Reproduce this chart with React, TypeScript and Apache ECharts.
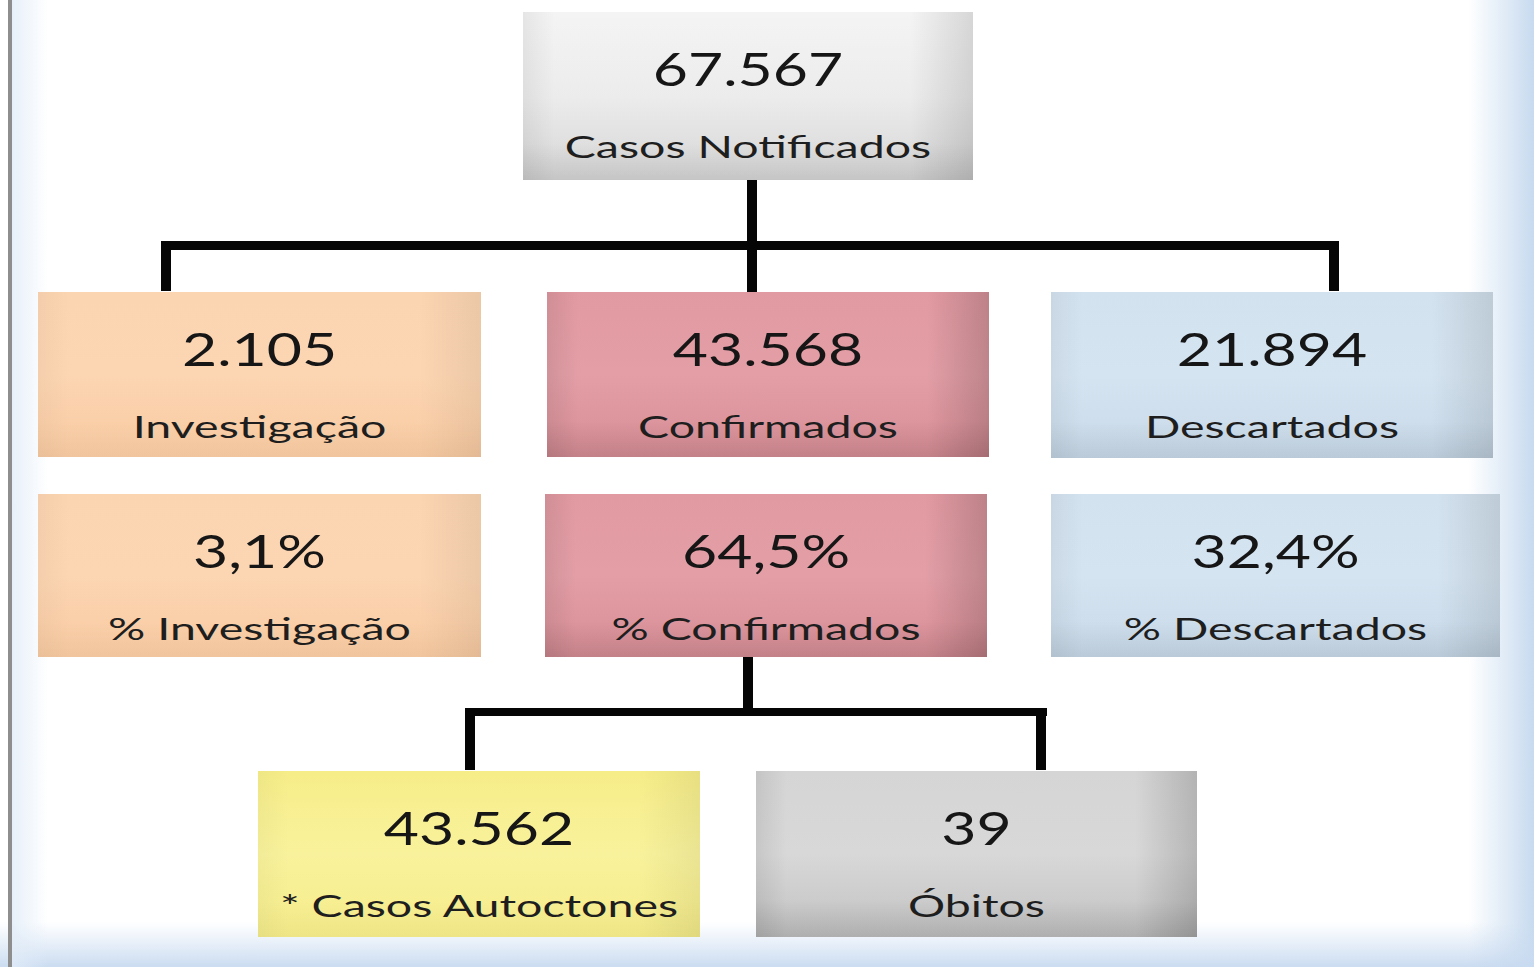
import React, { useEffect, useRef } from "react";
import * as echarts from "echarts";

// ---- Data ----
const totalNotificados = 67567;
const groupCounts = [2105, 43568, 21894]; // Investigação, Confirmados, Descartados
const groupPercents = [3.1, 64.5, 32.4];
const confirmedBreakdown = [43562, 39]; // Autoctones, Óbitos

const topLabel = "Casos Notificados";
const groupLabels = ["Investigação", "Confirmados", "Descartados"];
const percentLabels = ["% Investigação", "% Confirmados", "% Descartados"];
const breakdownLabels = ["* Casos Autoctones", "Óbitos"];

// ---- formatting ----
const fmtInt = (n: number) => String(n).replace(/\B(?=(\d{3})+(?!\d))/g, ".");
const fmtPct = (p: number) => p.toFixed(1).replace(".", ",") + "%";

// ---- themes ----
type Theme = { top: string; mid: string; bottom: string; edge: number; bottomShade: number };
const themes: Record<string, Theme> = {
  gray: { top: "#f4f4f4", mid: "#ececec", bottom: "#d6d6d6", edge: 0.12, bottomShade: 0.08 },
  orange: { top: "#fbd4b1", mid: "#fcd5b2", bottom: "#f8cba2", edge: 0.06, bottomShade: 0.03 },
  pink: { top: "#e29aa2", mid: "#e39ea6", bottom: "#d98f97", edge: 0.16, bottomShade: 0.1 },
  blue: { top: "#d3e2ef", mid: "#d5e4f1", bottom: "#c8d9e8", edge: 0.1, bottomShade: 0.07 },
  yellow: { top: "#f6ed88", mid: "#f9f29c", bottom: "#f5ec8a", edge: 0.06, bottomShade: 0.03 },
  gray2: { top: "#d5d5d5", mid: "#d8d8d8", bottom: "#c2c2c2", edge: 0.16, bottomShade: 0.1 },
};

// ---- layout ----
const boxLayout = [
  { x: 523, y: 12, w: 450, h: 168, theme: "gray" },
  { x: 38, y: 292, w: 443, h: 165, theme: "orange" },
  { x: 547, y: 292, w: 442, h: 165, theme: "pink" },
  { x: 1051, y: 292, w: 442, h: 166, theme: "blue" },
  { x: 38, y: 494, w: 443, h: 163, theme: "orange" },
  { x: 545, y: 494, w: 442, h: 163, theme: "pink" },
  { x: 1051, y: 494, w: 449, h: 163, theme: "blue" },
  { x: 258, y: 771, w: 442, h: 166, theme: "yellow" },
  { x: 756, y: 771, w: 441, h: 166, theme: "gray2" },
];

const connectors = [
  { x: 747, y: 180, w: 10, h: 112 },
  { x: 161, y: 241, w: 1178, h: 9 },
  { x: 161, y: 241, w: 10, h: 50 },
  { x: 1329, y: 241, w: 10, h: 50 },
  { x: 743, y: 657, w: 10, h: 58 },
  { x: 465, y: 708, w: 582, h: 8 },
  { x: 465, y: 708, w: 10, h: 62 },
  { x: 1036, y: 708, w: 10, h: 62 },
];

const FONT = "Lato, 'Open Sans', sans-serif";

function buildElements() {
  const values = [
    fmtInt(totalNotificados),
    ...groupCounts.map(fmtInt),
    ...groupPercents.map(fmtPct),
    ...confirmedBreakdown.map(fmtInt),
  ];
  const labels = [topLabel, ...groupLabels, ...percentLabels, ...breakdownLabels];

  const els: any[] = [];
  // background
  els.push({ type: "rect", shape: { x: 0, y: 0, width: 1534, height: 967 }, style: { fill: "#ffffff" } });
  els.push({
    type: "rect",
    shape: { x: 1468, y: 0, width: 66, height: 967 },
    style: {
      fill: new echarts.graphic.LinearGradient(0, 0, 1, 0, [
        { offset: 0, color: "rgba(200,220,240,0)" },
        { offset: 1, color: "rgba(196,216,238,0.95)" },
      ]),
    },
  });
  els.push({
    type: "rect",
    shape: { x: 0, y: 922, width: 1534, height: 45 },
    style: {
      fill: new echarts.graphic.LinearGradient(0, 0, 0, 1, [
        { offset: 0, color: "rgba(205,222,242,0)" },
        { offset: 1, color: "rgba(200,218,240,0.95)" },
      ]),
    },
  });
  els.push({
    type: "rect",
    shape: { x: 12, y: 0, width: 36, height: 967 },
    style: {
      fill: new echarts.graphic.LinearGradient(0, 0, 1, 0, [
        { offset: 0, color: "rgba(225,236,248,0.8)" },
        { offset: 1, color: "rgba(225,236,248,0)" },
      ]),
    },
  });
  els.push({ type: "rect", shape: { x: 8, y: 0, width: 4, height: 967 }, style: { fill: "#8e8e8e" } });

  // connectors
  connectors.forEach((c) =>
    els.push({ type: "rect", shape: { x: c.x, y: c.y, width: c.w, height: c.h }, style: { fill: "#050505" } })
  );

  // boxes
  boxLayout.forEach((b, i) => {
    const t = themes[b.theme];
    els.push({
      type: "rect",
      shape: { x: b.x, y: b.y, width: b.w, height: b.h },
      style: {
        fill: new echarts.graphic.LinearGradient(0, 0, 0, 1, [
          { offset: 0, color: t.top },
          { offset: 0.5, color: t.mid },
          { offset: 1, color: t.bottom },
        ]),
      },
    });
    els.push({
      type: "rect",
      shape: { x: b.x, y: b.y, width: b.w, height: b.h },
      style: {
        fill: new echarts.graphic.LinearGradient(0, 0, 1, 0, [
          { offset: 0, color: `rgba(0,0,0,${t.edge * 0.5})` },
          { offset: 0.07, color: "rgba(0,0,0,0)" },
          { offset: 0.86, color: "rgba(0,0,0,0)" },
          { offset: 1, color: `rgba(0,0,0,${t.edge})` },
        ]),
      },
    });
    els.push({
      type: "rect",
      shape: { x: b.x, y: b.y, width: b.w, height: b.h },
      style: {
        fill: new echarts.graphic.LinearGradient(0, 0, 0, 1, [
          { offset: 0, color: "rgba(0,0,0,0)" },
          { offset: 0.78, color: "rgba(0,0,0,0)" },
          { offset: 1, color: `rgba(0,0,0,${t.bottomShade})` },
        ]),
      },
    });
    const cx = b.x + b.w / 2;
    els.push({
      type: "text",
      x: cx,
      y: b.y + 56,
      scaleX: 1.32,
      style: {
        text: values[i],
        fontSize: 46,
        fontFamily: FONT,
        fill: "#161616",
        align: "center",
        verticalAlign: "middle",
      },
    });
    els.push({
      type: "text",
      x: cx,
      y: b.y + 134,
      scaleX: 1.5,
      style: {
        text: labels[i],
        fontSize: 31,
        fontFamily: FONT,
        fill: "#1e1e1e",
        align: "center",
        verticalAlign: "middle",
      },
    });
  });
  return els;
}

export default function App() {
  const ref = useRef<HTMLDivElement>(null);
  useEffect(() => {
    document.body.style.margin = "0";
    if (!ref.current) return;
    const chart = echarts.init(ref.current, null, { renderer: "svg" });
    chart.setOption({
      animation: false,
      graphic: { elements: buildElements() },
    });
    return () => chart.dispose();
  }, []);
  return (
    <div
      ref={ref}
      style={{ position: "absolute", left: 0, top: 0, width: 1534, height: 967, background: "#fff" }}
    />
  );
}
